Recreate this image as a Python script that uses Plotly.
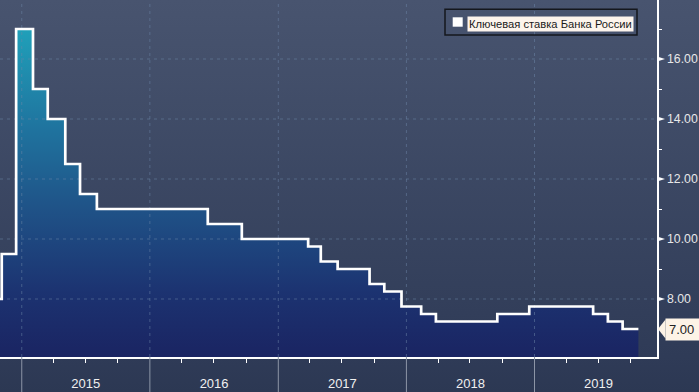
import base64
import plotly.graph_objects as go

# ---- data ----
dates = ["2014-10-31", "2014-11-05", "2014-12-16", "2015-02-02", "2015-03-16",
         "2015-05-05", "2015-06-16", "2015-08-03", "2016-06-14", "2016-09-19",
         "2017-03-27", "2017-05-02", "2017-06-19", "2017-09-18", "2017-10-30",
         "2017-12-18", "2018-02-12", "2018-03-26", "2018-09-17", "2018-12-17",
         "2019-06-17", "2019-07-29", "2019-09-09", "2019-10-24"]
rates = [8.0, 9.5, 17.0, 15.0, 14.0, 12.5, 11.5, 11.0, 10.5, 10.0,
         9.75, 9.25, 9.0, 8.5, 8.25, 7.75, 7.5, 7.25, 7.5, 7.75,
         7.5, 7.25, 7.0, 7.0]
series_name = "Ключевая ставка Банка России"
year_starts = ["2015-01-01", "2016-01-01", "2017-01-01", "2018-01-01", "2019-01-01"]
y_ticks = [8, 10, 12, 14, 16]
y_minor = [7, 9, 11, 13, 15, 17]

# ---- layout constants ----
W, H = 699, 392
PW, PH = 657, 357
X_RANGE = ["2014-10-31", "2019-12-16"]
Y_RANGE = [6.067, 17.967]
UNIT_PX = PH / (Y_RANGE[1] - Y_RANGE[0])
FONT = "Liberation Sans"
GRID = "rgba(110,135,170,0.5)"


def px_x(p):
    return p / PW


def px_y(p):
    return 1 - p / PH


fig = go.Figure()

# gradient area
fig.add_trace(go.Scatter(
    x=dates, y=rates, mode="lines", line=dict(width=0, shape="hv"),
    fill="tozeroy",
    fillgradient=dict(type="vertical", start=Y_RANGE[0], stop=17,
                      colorscale=[[0.0, "#1a2462"], [0.2, "#1c3371"],
                                  [0.45, "#1f5287"], [0.7, "#1f749f"],
                                  [1.0, "#20a0b9"]]),
    showlegend=False, hoverinfo="skip"))

# dashed grid drawn over the fill
for v in y_ticks:
    fig.add_trace(go.Scatter(x=X_RANGE, y=[v, v], mode="lines",
                             line=dict(color=GRID, width=1, dash="3px,4px"),
                             showlegend=False, hoverinfo="skip"))
for d in year_starts:
    fig.add_trace(go.Scatter(x=[d, d], y=Y_RANGE, mode="lines",
                             line=dict(color=GRID, width=1, dash="3px,4px"),
                             showlegend=False, hoverinfo="skip"))

# the rate line
fig.add_trace(go.Scatter(x=dates, y=rates, mode="lines", name=series_name,
                         line=dict(color="white", width=2.7, shape="hv"),
                         showlegend=False))

# background gradient image
svg = ('<svg xmlns="http://www.w3.org/2000/svg" width="%d" height="%d" '
       'preserveAspectRatio="none"><defs><linearGradient id="g" x1="0" y1="0" '
       'x2="0" y2="1"><stop offset="0" stop-color="#48546f"/>'
       '<stop offset="0.91" stop-color="#2f3b57"/>'
       '<stop offset="1" stop-color="#2c3853"/></linearGradient></defs>'
       '<rect width="%d" height="%d" fill="url(#g)"/></svg>') % (W, H, W, H)
src = "data:image/svg+xml;base64," + base64.b64encode(svg.encode()).decode()

shapes = []
# year separators below the axis
for d in year_starts:
    shapes.append(dict(type="line", xref="x", yref="paper", x0=d, x1=d,
                       y0=0, y1=-(H - PH) / PH, line=dict(color="#8c95a6", width=1)))
# small arrow-head tick markers on the value axis
half = 2.6 / UNIT_PX
for v in y_ticks:
    shapes.append(dict(type="path", xref="paper", yref="y",
                       path="M %f,%f L %f,%f L %f,%f Z" % (
                           1, v + half, 1 + 8 / PW, v, 1, v - half),
                       fillcolor="white", line=dict(width=0)))
# legend box
shapes.append(dict(type="rect", xref="paper", yref="paper",
                   x0=px_x(445), x1=px_x(637), y0=px_y(35), y1=px_y(9.3),
                   line=dict(color="#14171d", width=1.5), fillcolor="rgba(0,0,0,0)"))
shapes.append(dict(type="rect", xref="paper", yref="paper",
                   x0=px_x(452.7), x1=px_x(462.7), y0=px_y(26.7), y1=px_y(17.3),
                   line=dict(width=0), fillcolor="white"))
# last value pointer
last = rates[-1]
shapes.append(dict(type="path", xref="paper", yref="y",
                   path="M %f,%f L %f,%f L %f,%f Z" % (
                       1 + 1 / PW, last, 1 + 8.5 / PW, last + 9.5 / UNIT_PX,
                       1 + 8.5 / PW, last - 9.5 / UNIT_PX),
                   fillcolor="#fdf3e6", line=dict(width=0)))

annotations = [
    dict(xref="paper", yref="paper", x=px_x(467), y=px_y(23.8),
         xanchor="left", yanchor="middle", showarrow=False,
         text=series_name, bgcolor="#fdf4ec", borderpad=1,
         font=dict(family=FONT, size=11.2, color="#1a1a1a")),
    dict(xref="paper", yref="y", x=1, xshift=8, y=last,
         xanchor="left", yanchor="middle", showarrow=False,
         text="%.2f" % last, bgcolor="#fdf3e6", borderpad=3, width=44, align="left",
         font=dict(family=FONT, size=13, color="#222222")),
]

fig.update_layout(
    width=W, height=H,
    margin=dict(l=0, r=W - PW, t=0, b=H - PH, pad=0, autoexpand=False),
    paper_bgcolor="#2d3954", plot_bgcolor="rgba(0,0,0,0)",
    images=[dict(source=src, xref="paper", yref="paper", x=0, y=1,
                 sizex=W / PW, sizey=H / PH, xanchor="left", yanchor="top",
                 sizing="stretch", layer="below")],
    shapes=shapes, annotations=annotations,
    showlegend=False,
    xaxis=dict(type="date", range=X_RANGE, showgrid=False, zeroline=False,
               automargin=False,
               showline=True, linecolor="white", linewidth=1.5,
               tick0="2015-01-01", dtick="M12", tickformat="%Y",
               ticklabelmode="period", ticks="outside", ticklen=14,
               tickcolor="rgba(0,0,0,0)",
               minor=dict(dtick="M3", ticks="outside", ticklen=4,
                          tickcolor="white", tickwidth=1, showgrid=False),
               tickfont=dict(family=FONT, size=13, color="#f0f0f0")),
    yaxis=dict(side="right", range=Y_RANGE, showgrid=False, zeroline=False,
               automargin=False,
               showline=True, linecolor="white", linewidth=1.5,
               tickvals=y_ticks, ticktext=["%.2f" % v for v in y_ticks],
               ticks="outside", ticklen=6, tickwidth=1, tickcolor="rgba(0,0,0,0)",
               minor=dict(tickvals=y_minor, ticks="outside", ticklen=3,
                          tickcolor="white", tickwidth=1, showgrid=False),
               tickfont=dict(family=FONT, size=12.3, color="#e8e8e8")),
)

fig.write_html("out.html", config={"displayModeBar": False, "staticPlot": True},
               post_script="document.body.style.margin='0';"
                           "document.body.style.background='#2d3954';")
